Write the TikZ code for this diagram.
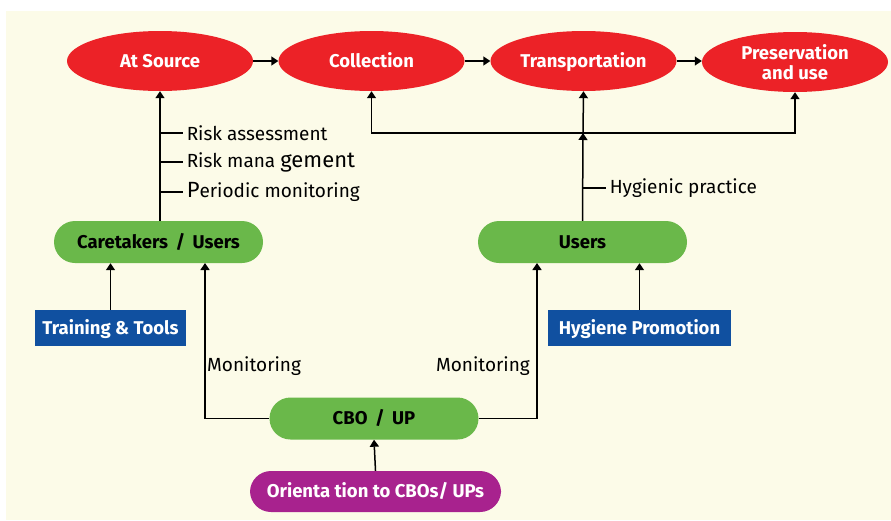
\documentclass[tikz,border=0pt]{standalone}
\usepackage{fontspec}
\setmainfont{Fira Sans}
\usetikzlibrary{shapes.geometric,arrows.meta}
\definecolor{bgc}{HTML}{FCFBE8}
\definecolor{redc}{HTML}{EC2227}
\definecolor{greenc}{HTML}{6AB84A}
\definecolor{bluec}{HTML}{1050A0}
\definecolor{purplec}{HTML}{A8228E}
\tikzset{
  stage/.style={ellipse, fill=redc, text=white, minimum width=186pt, minimum height=60pt, inner sep=0pt, align=center, font=\fontsize{18.5}{20}\selectfont\bfseries},
  oneline/.style={text height=17pt, text depth=4.2pt},
  actor/.style={rectangle, rounded corners=21pt, fill=greenc, text=black, minimum width=209pt, minimum height=42pt, inner sep=0pt, oneline, font=\fontsize{18.5}{20}\selectfont\bfseries},
  input/.style={rectangle, fill=bluec, text=white, minimum height=36pt, inner sep=0pt, oneline, font=\fontsize{18.5}{20}\selectfont\bfseries},
  orient/.style={rectangle, rounded corners=21pt, fill=purplec, text=white, minimum width=251pt, minimum height=41pt, inner sep=0pt, oneline, font=\fontsize{18.5}{20}\selectfont\bfseries},
  lab/.style={inner sep=0pt, font=\fontsize{19}{21}\selectfont},
  arr/.style={line width=1.5pt, -{Triangle[width=9pt,length=7pt]}},
  ln/.style={line width=1.5pt}
}
\begin{document}
\begin{tikzpicture}[x=1pt,y=-1pt]
\useasboundingbox (0,0) rectangle (891,520);
\fill[bgc] (6,11) rectangle (891,520);

\node[stage, oneline] (src) at (160,61) {At Source};
\node[stage, oneline] (col) at (371.5,61) {Collection};
\node[stage, oneline] (tra) at (583.5,61) {Transportation};
\node[stage] (pre) at (795,62) {Preservation\\and use};

\node[actor] (care) at (158.5,242) {Caretakers \,/\, Users};
\node[actor] (users) at (582.5,242) {Users};
\node[actor] (cbo) at (374,418.5) {CBO \,/\, UP};
\node[orient] (ori) at (375.5,491.5) {Orienta tion to CBOs/ UPs};

\node[input, minimum width=151pt] (train) at (110.5,328) {Training \& Tools};
\node[input, minimum width=183pt] (hyg) at (639.5,328) {Hygiene Promotion};

\draw[arr] (src.east) -- (col.west);
\draw[arr] (col.east) -- (tra.west);
\draw[arr] (tra.east) -- (pre.west |- tra.east);

% left column
\draw[arr] (care.north -| src.south) -- (src.south);
\coordinate (b1) at (160,133);
\coordinate (b2) at (160,162);
\coordinate (b3) at (160,192);
\draw[ln] (b1) -- ++(23,0) node[lab, anchor=west, xshift=3pt] (l1) {Risk assessment};
\draw[ln] (b2) -- ++(23,0) node[lab, anchor=west, xshift=3pt] (l2) {Risk mana {\fontsize{22}{22}\selectfont gement}};
\draw[ln] (b3) -- ++(23,0) node[lab, anchor=west, xshift=3pt] (l3) {{\fontsize{22}{22}\selectfont P}eriodic monitoring};

% right column
\coordinate (j) at (583,133);
\draw[arr] (users.north) -- (j);
\draw[arr] (j) -- (tra.south);
\draw[arr] (j) -| (pre.south);
\draw[arr] (j) -| (col.south);
\coordinate (b4) at (583,188);
\draw[ln] (b4) -- ++(23,0) node[lab, anchor=west, xshift=3pt] (l4) {Hygienic practice};

% inputs
\draw[arr] (train.north) -- (train.north |- care.south);
\draw[arr] (hyg.north) -- (hyg.north |- users.south);

% monitoring
\coordinate (m1) at (205,263);
\coordinate (m2) at (537,263);
\draw[arr] (cbo.west) -| (m1);
\draw[arr] (cbo.east) -| (m2);
\node[lab, anchor=west] (mon1) at (207,366) {Monitoring};
\node[lab, anchor=east] (mon2) at (530,366) {Monitoring};

\draw[arr] (ori.north) -- (cbo.south);
\end{tikzpicture}
\end{document}
